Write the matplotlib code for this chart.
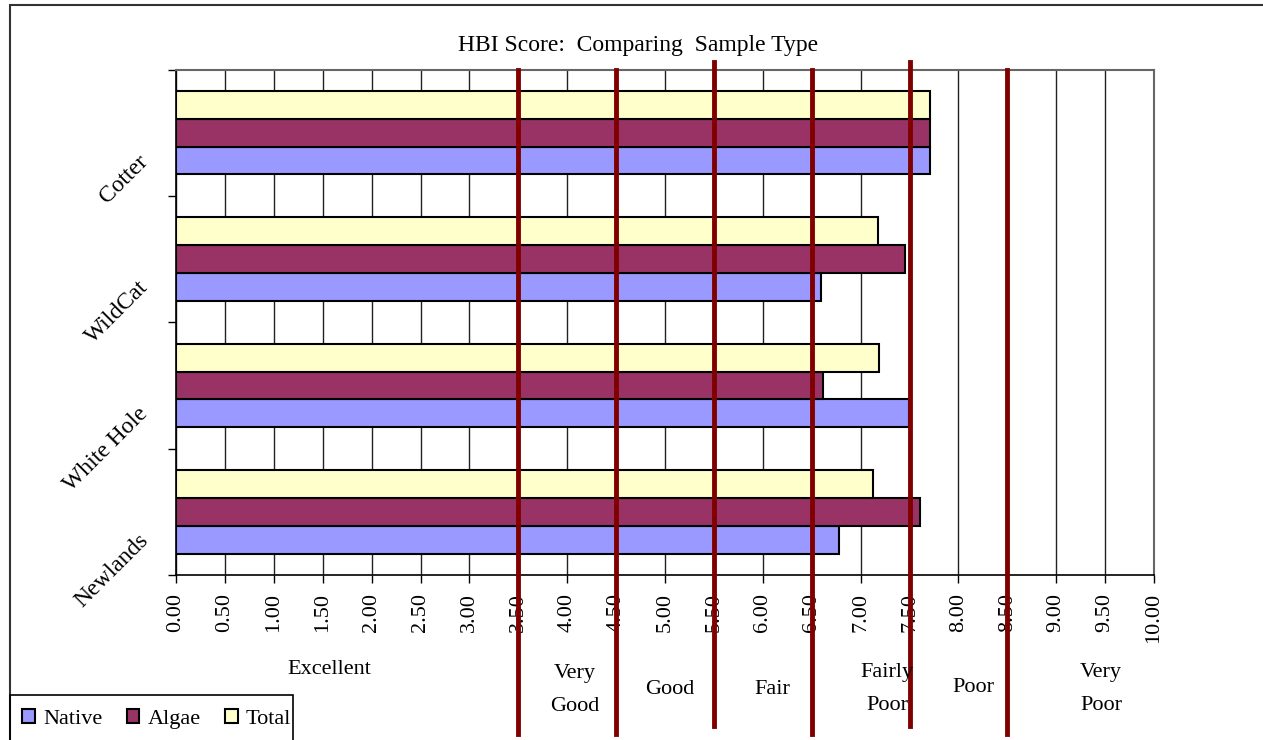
import numpy as np
import matplotlib.pyplot as plt
from matplotlib.patches import Rectangle, Patch
from matplotlib.transforms import ScaledTranslation

sites = ["Newlands", "White Hole", "WildCat", "Cotter"]
native = [6.78, 7.49, 6.60, 7.71]
algae = [7.61, 6.62, 7.45, 7.71]
total = [7.13, 7.19, 7.18, 7.71]

# HBI water quality bands (score boundaries and names)
band_edges = [3.5, 4.5, 5.5, 6.5, 7.5, 8.5]
band_names = ["Excellent", "Very\nGood", "Good", "Fair", "Fairly\nPoor", "Poor", "Very\nPoor"]

plt.rcParams["font.family"] = ["Liberation Serif", "DejaVu Serif"]

W, H = 1263, 740
fig = plt.figure(figsize=(W / 100, H / 100), dpi=100)
ax = fig.add_axes([176 / W, 1 - 575 / H, (1154 - 176) / W, (575 - 69.5) / H])

y = np.arange(len(sites)) + 0.5
bh = 0.22
series = [(native, "Native", "#9999FF"), (algae, "Algae", "#993366"), (total, "Total", "#FFFFCC")]
for i, (vals, name, col) in enumerate(series):
    ax.barh(y + (i - 1) * bh, vals, height=bh, color=col, edgecolor="black",
            linewidth=1.5, label=name, zorder=3)

ax.set_xlim(0, 10)
ax.set_ylim(0, len(sites))
xt = np.arange(0, 10.01, 0.5)
ax.set_xticks(xt)
ax.set_xticklabels(["%.2f" % v for v in xt], rotation=90, fontsize=16)
ax.tick_params(axis="x", direction="out", length=6, width=1, pad=7)
ax.grid(axis="x", color="#222222", linewidth=1, zorder=0)

ax.set_yticks(np.arange(0, len(sites) + 1))
ax.set_yticklabels([])
ax.tick_params(axis="y", which="major", direction="out", length=6, width=1)
ax.set_yticks(y, minor=True)
ax.set_yticklabels(sites, minor=True, rotation=45, ha="right", va="top",
                   fontsize=17)
ax.tick_params(axis="y", which="minor", length=0, pad=17)
shift = ScaledTranslation(0, -0.18, fig.dpi_scale_trans)
for lbl in ax.get_yticklabels(minor=True):
    lbl.set_transform(lbl.get_transform() + shift)

for s in ["left", "bottom"]:
    ax.spines[s].set_color("black")
    ax.spines[s].set_linewidth(1.2)
for s in ["top", "right"]:
    ax.spines[s].set_color("#666666")
    ax.spines[s].set_linewidth(1.5)

# band boundaries run down past the axis into the label area
for k, xb in enumerate(band_edges):
    tall = k in (2, 4)
    ax.axvline(xb, ymin=-0.299 if tall else -0.315, ymax=1.015 if tall else 1.0,
               color="#800000", linewidth=3.5, clip_on=False, zorder=5)

label_x = [1.57, 4.08, 5.05, 6.10, 7.27, 8.15, 9.46]
label_y = [670, 690, 690, 690, 689, 688, 689]
for name, lx, ly in zip(band_names, label_x, label_y):
    fx = (176 + lx * 97.8) / W
    fig.text(fx, 1 - ly / H, name, ha="center", va="center", fontsize=16,
             linespacing=2.0)

fig.text(638 / W, 1 - 45 / H, "HBI Score:  Comparing  Sample Type",
         ha="center", va="center", fontsize=17)

# chart border and legend box
fig.patches.append(Rectangle((10 / W, -0.05), 1.1, 1 - 5 / H + 0.05,
                             transform=fig.transFigure, fill=False,
                             edgecolor="#333333", linewidth=1.5))
fig.patches.append(Rectangle((10 / W, -0.05), (293 - 10) / W, 1 - 695 / H + 0.05,
                             transform=fig.transFigure, fill=False,
                             edgecolor="black", linewidth=1.2))
handles = [Patch(facecolor=c, edgecolor="black", linewidth=1.5, label=n)
           for _, n, c in series]
fig.legend(handles=handles, loc="center left", ncol=3, frameon=False,
           bbox_to_anchor=(22 / W, 1 - 719 / H), fontsize=16,
           handlelength=0.58, handleheight=0.58, handletextpad=0.36,
           columnspacing=1.1, borderpad=0, borderaxespad=0)

fig.savefig("out.png", dpi=100)
